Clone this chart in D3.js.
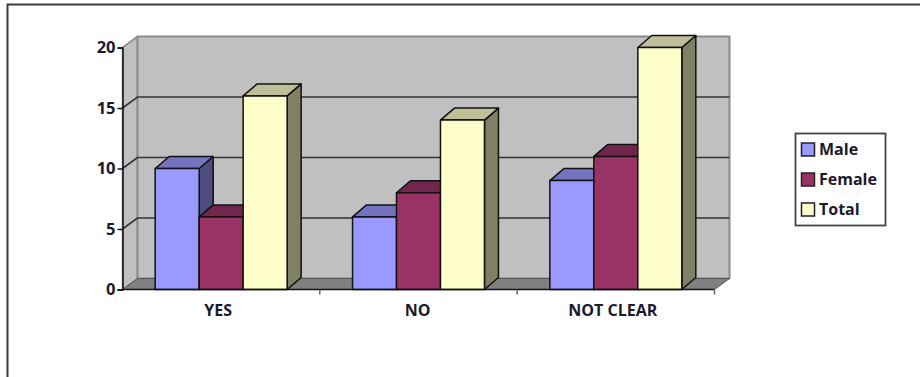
<!DOCTYPE html>
<html>
<head>
<meta charset="utf-8">
<style>
  html, body { margin: 0; padding: 0; background: #fff; }
  svg { display: block; }
  text { font-family: "Open Sans", Lato, sans-serif; font-weight: 700; fill: #1a1a2e; }
</style>
<script src="https://cdnjs.cloudflare.com/ajax/libs/d3/7.8.5/d3.min.js"></script>
</head>
<body>
<svg id="chart" width="920" height="377"></svg>
<script>
const categories = ["YES", "NO", "NOT CLEAR"];
const seriesNames = ["Male", "Female", "Total"];
const male = [10, 6, 9];
const female = [6, 8, 11];
const total = [16, 14, 20];
const yTicks = [0, 5, 10, 15, 20];

const frontColors = ["#9999ff", "#993366", "#ffffcc"];
const topColors = ["#7373bf", "#73264d", "#bfbf99"];
const sideColors = ["#4d4d80", "#4d1a33", "#808066"];

const svg = d3.select("#chart");
const values = [male, female, total];

// Oblique projection: depth shifts everything right and up.
const depthX = 15, depthY = -11;
const barDepthX = 14, barDepthY = -12;

const x0 = d3.scaleBand().domain(categories).range([122.5, 714.5]);
const x1 = d3.scaleBand().domain(seriesNames).range([32.7, x0.bandwidth() - 32.7]);
const y = d3.scaleLinear().domain([0, 20]).range([289.5, 47.5]);

const poly = (pts, fill, stroke, sw) => svg.append("polygon")
  .attr("points", pts.map(p => p.join(",")).join(" "))
  .attr("fill", fill).attr("stroke", stroke).attr("stroke-width", sw)
  .attr("stroke-linejoin", "round");

// Frame around the figure, open on the right and at the bottom.
svg.append("path").attr("d", "M7.5,377V4.5H920")
  .attr("fill", "none").attr("stroke", "#3c3c3c").attr("stroke-width", 2);

const left = x0.range()[0], right = x0.range()[1];
const y0 = y(0), yMax = y(20);

// Walls and floor
poly([[left, y0], [left + depthX, y0 + depthY], [left + depthX, yMax + depthY], [left, yMax]], "#c0c0c0", "#8a8a8a", 1.5);
poly([[left + depthX, y0 + depthY], [right + depthX, y0 + depthY], [right + depthX, yMax + depthY], [left + depthX, yMax + depthY]], "#c0c0c0", "#8a8a8a", 2);
poly([[left, y0], [right, y0], [right + depthX, y0 + depthY], [left + depthX, y0 + depthY]], "#808080", "#555", 1);

// Gridlines run along the back wall and fold down the left wall.
yTicks.filter(t => t > 0 && t < 20).forEach(t => {
  svg.append("path")
    .attr("d", `M${left},${y(t)}L${left + depthX},${y(t) + depthY}H${right + depthX}`)
    .attr("fill", "none").attr("stroke", "#333").attr("stroke-width", 1.6);
});
svg.append("path")
  .attr("d", `M${left},${yMax}L${left + depthX},${yMax + depthY}`)
  .attr("fill", "none").attr("stroke", "#8a8a8a").attr("stroke-width", 1.5);

// Bars, back to front within each group
categories.forEach((cat, c) => {
  seriesNames.forEach((name, s) => {
    const xa = x0(cat) + x1(name), xb = xa + x1.bandwidth();
    const yt = y(values[s][c]);
    poly([[xb, yt], [xb + barDepthX, yt + barDepthY], [xb + barDepthX, y0 + barDepthY], [xb, y0]], sideColors[s], "#111", 1.5);
    poly([[xa, yt], [xa + barDepthX, yt + barDepthY], [xb + barDepthX, yt + barDepthY], [xb, yt]], topColors[s], "#111", 1.5);
    poly([[xa, yt], [xb, yt], [xb, y0], [xa, y0]], frontColors[s], "#111", 1.5);
  });
});

// Value axis
const yAxis = svg.append("g").attr("transform", `translate(${left},0)`)
  .call(d3.axisLeft(y).tickValues(yTicks).tickSize(5).tickPadding(2));
yAxis.select(".domain").attr("stroke", "#111").attr("stroke-width", 1.5);
yAxis.selectAll(".tick line").attr("stroke", "#111").attr("stroke-width", 1.5);
yAxis.selectAll("text").style("font-size", "16.5px").attr("fill", "#1a1a2e");

// Category axis: ticks sit on the band edges, labels in the band centres.
svg.append("line").attr("x1", left).attr("x2", right).attr("y1", y0).attr("y2", y0)
  .attr("stroke", "#111").attr("stroke-width", 1.5);
svg.selectAll(".xtick").data(categories).join("line").attr("class", "xtick")
  .attr("x1", d => x0(d) + x0.bandwidth()).attr("x2", d => x0(d) + x0.bandwidth())
  .attr("y1", y0).attr("y2", y0 + 5)
  .attr("stroke", "#666").attr("stroke-width", 1.5);
const labelNudge = [-3, -1, -3];
svg.selectAll(".xlabel").data(categories).join("text").attr("class", "xlabel")
  .attr("x", (d, i) => x0(d) + x0.bandwidth() / 2 + labelNudge[i])
  .attr("y", 316).attr("text-anchor", "middle").style("font-size", "16px")
  .text(d => d);

// Legend
svg.append("rect").attr("x", 795.5).attr("y", 133.5).attr("width", 90).attr("height", 92)
  .attr("fill", "#fff").attr("stroke", "#444").attr("stroke-width", 1.8);
const legendY = d3.scalePoint().domain(seriesNames).range([149.5, 209.5]);
seriesNames.forEach((name, s) => {
  svg.append("rect").attr("x", 801.5).attr("y", legendY(name) - 6.5).attr("width", 13).attr("height", 13)
    .attr("fill", frontColors[s]).attr("stroke", "#222").attr("stroke-width", 1.5);
  svg.append("text").attr("x", 819).attr("y", legendY(name) + 5.5)
    .style("font-size", "16px").text(name);
});
</script>
</body>
</html>
